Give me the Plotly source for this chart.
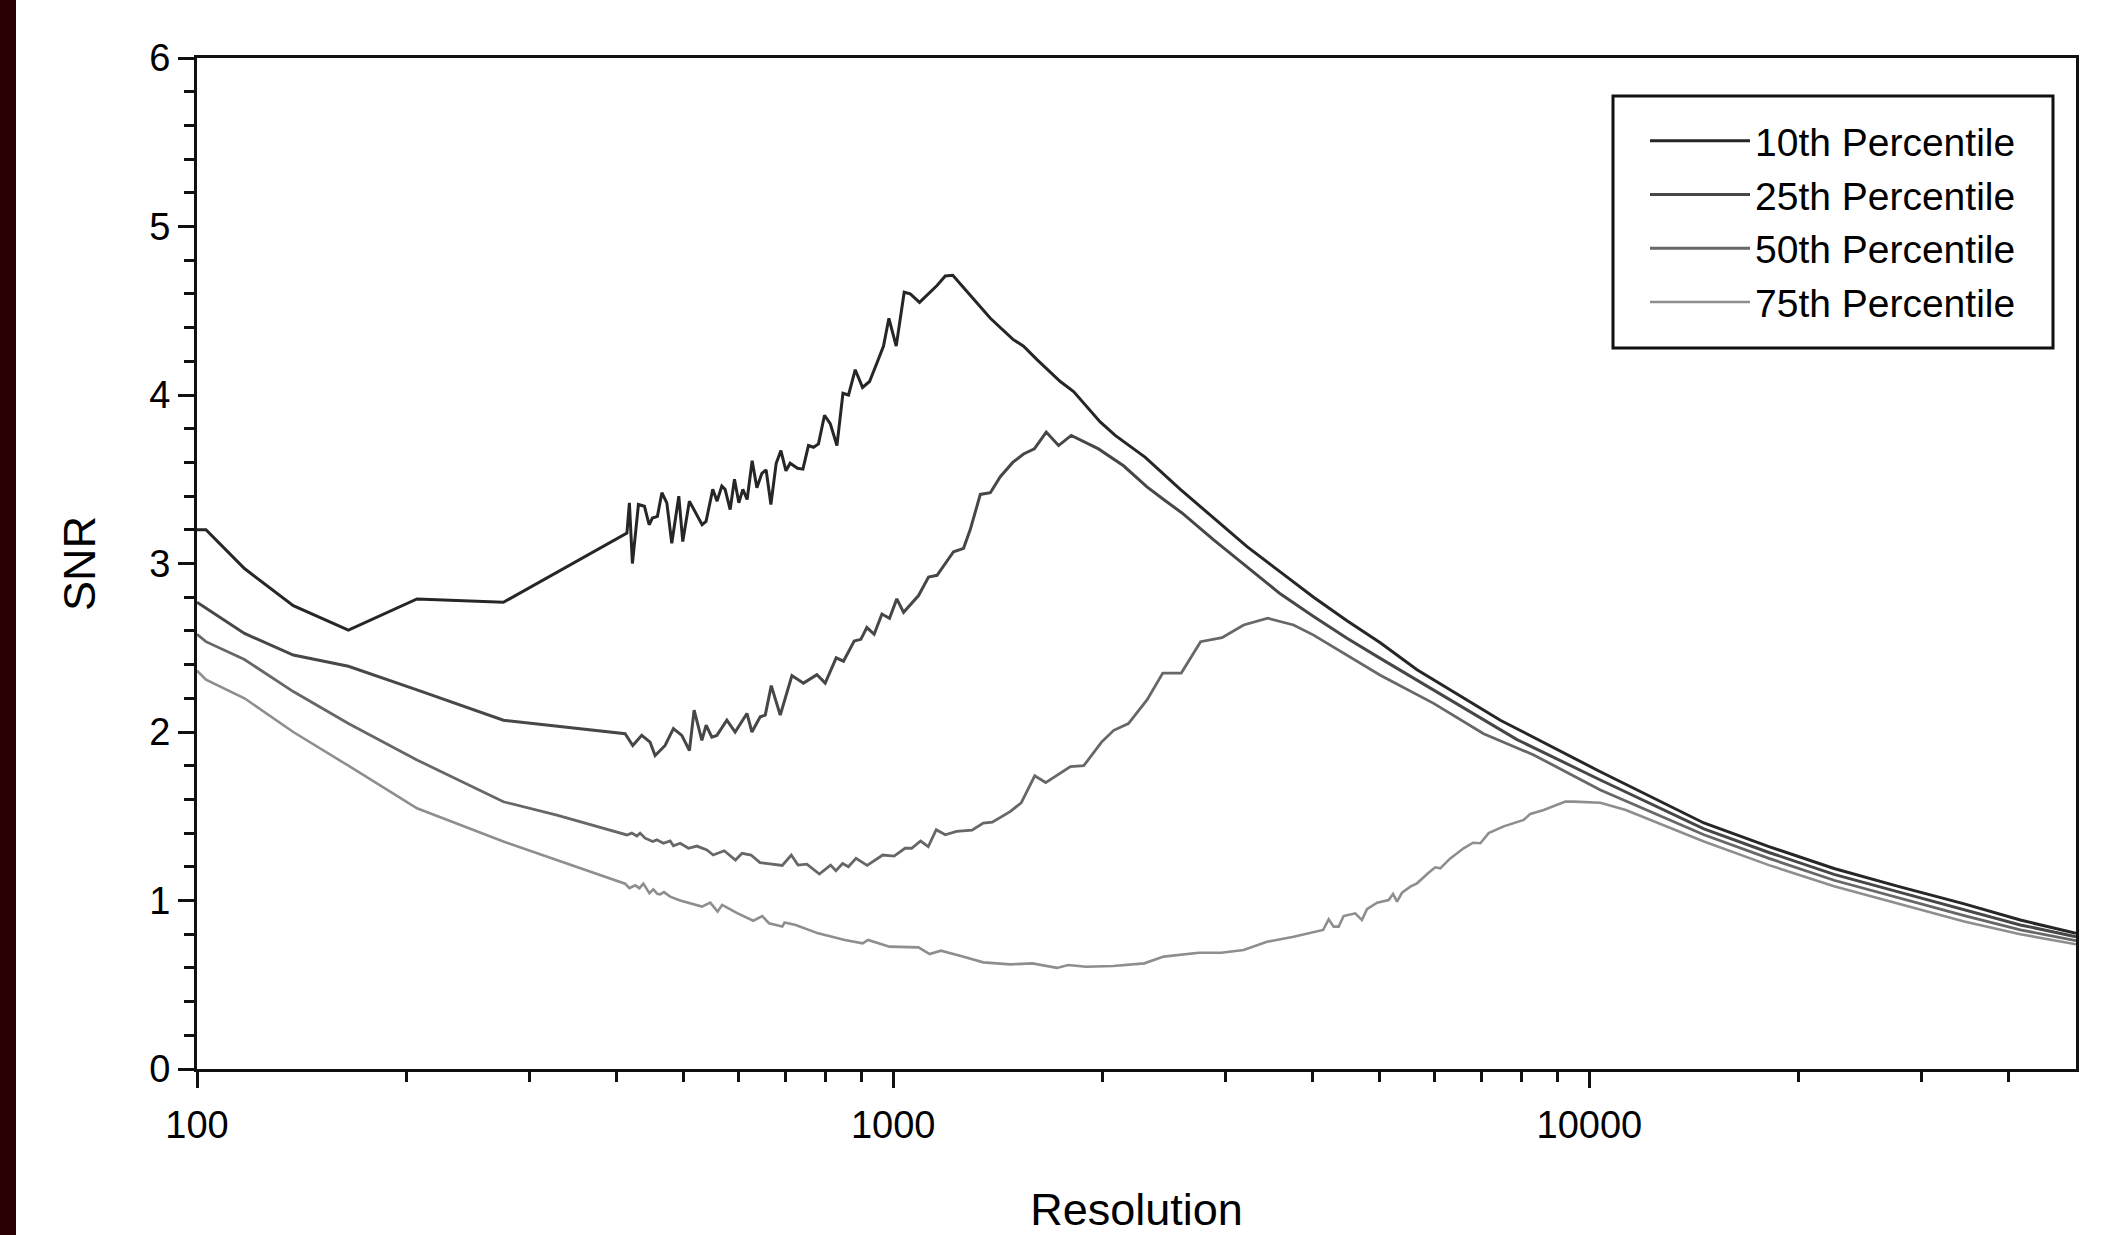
import math
import plotly.graph_objects as go

# ---------------- data ----------------
res_p10 = [100, 103, 117, 137.5, 165, 207, 275.5, 412, 414.5, 417.9, 422.1, 430.6, 439.2, 446.1,
           451.0, 458.5, 465.3, 473.0, 480.8, 492.1, 498.6, 509.6, 531.5, 538.5, 550.6, 558.5,
           567.3, 573.5, 583.2, 591.6, 600.2, 608.2, 616.9, 627.2, 637.1, 647.7, 656.9, 667.3,
           679.1, 689.8, 701.4, 711.2, 728.7, 741.9, 755.6, 768.3, 781.1, 796.8, 812.0, 830.2,
           846.9, 862.7, 882.0, 903.6, 924.8, 947.6, 968.5, 985.9, 1010, 1037, 1058, 1091, 1124,
           1156, 1188, 1218, 1248, 1312, 1379, 1486, 1539, 1609, 1738, 1816, 1983, 2084, 2302,
           2585, 2886, 3223, 3597, 4017, 4486, 5008, 5655, 5974, 7449, 10370, 14605, 18110,
           22460, 27860, 34550, 41590, 50000]
snr_p10 = [3.20, 3.20, 2.97, 2.75, 2.605, 2.79, 2.77, 3.175, 3.18, 3.36, 3.00, 3.35, 3.34, 3.23,
           3.27, 3.28, 3.42, 3.36, 3.12, 3.40, 3.13, 3.37, 3.23, 3.25, 3.44, 3.37,
           3.46, 3.44, 3.32, 3.50, 3.36, 3.44, 3.38, 3.61, 3.45, 3.535, 3.555, 3.35,
           3.595, 3.67, 3.55, 3.595, 3.565, 3.56, 3.70, 3.69, 3.71, 3.88, 3.83, 3.70,
           4.01, 4.00, 4.15, 4.045, 4.08, 4.19, 4.29, 4.455, 4.29, 4.61, 4.60, 4.55, 4.60,
           4.65, 4.706, 4.71, 4.66, 4.56, 4.455, 4.33, 4.29, 4.21, 4.08, 4.02, 3.84, 3.76, 3.63,
           3.44, 3.27, 3.10, 2.95, 2.80, 2.66, 2.53, 2.37, 2.31, 2.07, 1.764, 1.46, 1.32,
           1.19, 1.082, 0.98, 0.884, 0.805]

res_p25 = [100, 117, 137.5, 165, 207, 275.5, 412, 422.6, 435.3, 447.5, 455.0, 470.3, 483.4, 497.0,
           509.7, 517.7, 531.1, 538.7, 548.9, 558.1, 576.9, 592.9, 616.5, 626.7, 644.2, 655.0,
           668.1, 688.3, 715.4, 743.2, 777.0, 798.6, 828.2, 848.4, 879.0, 898.6, 916.6, 939.1,
           963.4, 987.9, 1012, 1035, 1087.5, 1124, 1156, 1221, 1262, 1290, 1334, 1379, 1425,
           1485, 1539, 1595, 1659, 1728, 1802, 1972, 2142, 2315, 2446, 2599, 2886, 3223, 3597,
           4017, 4486, 5008, 5974, 7872, 10370, 14605, 18110, 22460, 27860, 34550, 41590, 50000]
snr_p25 = [2.77, 2.585, 2.457, 2.39, 2.25, 2.07, 1.99, 1.92, 1.98, 1.94, 1.86, 1.92, 2.02, 1.98,
           1.89, 2.13, 1.95, 2.04, 1.97, 1.98, 2.07, 2.00, 2.11, 2.00, 2.09, 2.10,
           2.275, 2.10, 2.335, 2.29, 2.34, 2.29, 2.44, 2.42, 2.54, 2.55, 2.62, 2.58,
           2.70, 2.675, 2.79, 2.71, 2.81, 2.92, 2.93, 3.07, 3.09, 3.20, 3.41, 3.42, 3.515,
           3.60, 3.65, 3.68, 3.78, 3.70, 3.76, 3.68, 3.58, 3.455, 3.38, 3.30, 3.14, 2.98, 2.82,
           2.685, 2.556, 2.437, 2.25, 1.955, 1.715, 1.425, 1.285, 1.155, 1.05, 0.945, 0.855, 0.785]

res_p50 = [100, 103, 117, 137.5, 165, 207, 275.5, 328.8, 414.5, 421.2, 428.3, 432.9, 440.2, 451.5,
           457.6, 467.7, 478.2, 483.4, 494.3, 508.1, 522.4, 540.0, 551.4, 571.9, 593.5, 606.7,
           624.9, 643.7, 692.9, 713.9, 729.9, 751.6, 783.4, 813.0, 827.4, 845.9, 862.3, 884.3,
           917.5, 966.2, 1003, 1040, 1063, 1095, 1123, 1153, 1188, 1233, 1298, 1347, 1388, 1472,
           1527, 1597, 1656, 1797, 1878, 1992, 2074, 2177, 2315, 2439, 2593, 2764, 2967, 3187,
           3452, 3759, 4017, 4486, 5008, 5974, 7048, 8318, 10370, 14605, 18110, 22460, 27860,
           34550, 41590, 50000]
snr_p50 = [2.58, 2.536, 2.43, 2.24, 2.05, 1.834, 1.586, 1.507, 1.389, 1.40, 1.383, 1.40, 1.37, 1.35,
           1.36, 1.34, 1.353, 1.325, 1.34, 1.31, 1.323, 1.30, 1.27, 1.295, 1.24, 1.28,
           1.27, 1.225, 1.208, 1.27, 1.21, 1.216, 1.157, 1.21, 1.177, 1.22, 1.20, 1.25,
           1.208, 1.27, 1.264, 1.31, 1.31, 1.353, 1.32, 1.42, 1.39, 1.41, 1.418, 1.46, 1.465, 1.527,
           1.58, 1.74, 1.70, 1.795, 1.80, 1.94, 2.01, 2.05, 2.19, 2.35, 2.35, 2.536, 2.56, 2.635,
           2.675, 2.635, 2.575, 2.457, 2.337, 2.17, 1.99, 1.864, 1.656, 1.39, 1.25, 1.12, 1.015,
           0.91, 0.826, 0.762]

res_p75 = [100, 103, 117, 137.5, 165, 207, 275.5, 328.8, 412, 417.9, 425.9, 432.0, 437.7, 446.5,
           452.4, 458.2, 462.6, 468.5, 478.2, 494.3, 510.9, 531.3, 546.0, 559.5, 567.9, 597.9,
           629.5, 648.5, 663.1, 692.9, 698.2, 724.4, 780.1, 852.3, 904.0, 920.4, 987.9, 1087.5,
           1128, 1171, 1251, 1347, 1472, 1585, 1719, 1784, 1892, 2071, 2294, 2447, 2748, 2960,
           3187, 3443, 3760, 4145, 4222, 4292, 4364, 4436, 4610, 4713, 4792, 4955, 5148, 5224,
           5293, 5381, 5531, 5655, 5875, 6007, 6107, 6312, 6597, 6806, 6973, 7167, 7532, 8047,
           8227, 8597, 9237, 9494, 10370, 11280, 14605, 18110, 22460, 27860, 34550, 41590, 50000]
snr_p75 = [2.364, 2.31, 2.20, 2.00, 1.80, 1.547, 1.35, 1.24, 1.10, 1.073, 1.09, 1.073, 1.10, 1.043,
           1.066, 1.04, 1.037, 1.05, 1.023, 1.00, 0.983, 0.964, 0.987, 0.934, 0.974, 0.924,
           0.88, 0.908, 0.865, 0.845, 0.869, 0.855, 0.805, 0.766, 0.746, 0.766, 0.726, 0.722,
           0.682, 0.702, 0.67, 0.633, 0.621, 0.627, 0.60, 0.617, 0.607, 0.611, 0.627, 0.667, 0.69, 0.69,
           0.706, 0.755, 0.785, 0.825, 0.888, 0.845, 0.845, 0.908, 0.924, 0.884, 0.948, 0.987, 1.003, 1.039,
           0.993, 1.046, 1.082, 1.102, 1.165, 1.197, 1.191, 1.25, 1.31, 1.343, 1.34, 1.40, 1.44, 1.478,
           1.514, 1.537, 1.587, 1.587, 1.58, 1.537, 1.35, 1.21, 1.085, 0.98, 0.875, 0.80, 0.740]

series_names = ["10th Percentile", "25th Percentile", "50th Percentile", "75th Percentile"]
x_tick_values = [100, 1000, 10000]
x_tick_labels = ["100", "1000", "10000"]
y_tick_values = [0, 1, 2, 3, 4, 5, 6]

# ---------------- figure ----------------
FONT = "Liberation Sans, Arial, Helvetica, sans-serif"
colors = ["#262626", "#474747", "#676767", "#8e8e8e"]
widths = [3, 3, 2.8, 2.6]
all_x = [res_p10, res_p25, res_p50, res_p75]
all_y = [snr_p10, snr_p25, snr_p50, snr_p75]

fig = go.Figure()
for name, xs, ys, c, w in zip(series_names, all_x, all_y, colors, widths):
    fig.add_trace(go.Scatter(x=xs, y=ys, mode="lines", name=name,
                             line=dict(color=c, width=w)))

minor_x = [m * d for d in (100, 1000, 10000) for m in range(2, 10) if m * d < 50000]

W, H = 2103, 1235
ml, mr, mt, mb = 197, 27, 58, 166
pw, ph = W - ml - mr, H - mt - mb


def px_x(px):
    return (px - ml) / pw


def px_y(py):
    return (H - mb - py) / ph


axis_color = "#111111"
fig.update_layout(
    width=W, height=H,
    margin=dict(l=ml, r=mr, t=mt, b=mb, pad=0, autoexpand=False),
    paper_bgcolor="white", plot_bgcolor="white",
    font=dict(family=FONT, color="black", size=38),
    showlegend=True,
    legend=dict(
        x=px_x(1645), y=px_y(109), xanchor="left", yanchor="top",
        bgcolor="rgba(0,0,0,0)", borderwidth=0,
        font=dict(family=FONT, size=39, color="black"),
        itemwidth=100, tracegroupgap=0,
    ),
    xaxis=dict(
        type="log", range=[2, math.log10(50000)], automargin=False,
        showline=True, linecolor=axis_color, linewidth=3, mirror=True,
        ticks="outside", ticklen=16, tickwidth=3, tickcolor=axis_color,
        tickvals=x_tick_values, ticktext=x_tick_labels, ticklabelstandoff=4,
        tickfont=dict(size=38, family=FONT, color="black"),
        showgrid=False, zeroline=False,
        minor=dict(tickvals=minor_x, ticks="outside", ticklen=10, tickwidth=2.5,
                   tickcolor=axis_color, showgrid=False),
        title=dict(text="Resolution", font=dict(size=45, family=FONT, color="black"), standoff=55),
    ),
    yaxis=dict(
        range=[0, 6], automargin=False,
        showline=True, linecolor=axis_color, linewidth=3, mirror=True,
        ticks="outside", ticklen=16, tickwidth=3, tickcolor=axis_color,
        tickvals=y_tick_values,
        tickfont=dict(size=38, family=FONT, color="black"),
        showgrid=False, zeroline=False,
        minor=dict(dtick=0.2, ticks="outside", ticklen=10, tickwidth=2.5,
                   tickcolor=axis_color, showgrid=False),
        title=dict(text="SNR", font=dict(size=45, family=FONT, color="black"), standoff=40),
    ),
    shapes=[
        dict(type="rect", xref="paper", yref="paper",
             x0=-ml / pw, x1=(-ml + 16) / pw, y0=-mb / ph - 0.01, y1=1 + mt / ph + 0.01,
             fillcolor="#2b0003", line=dict(width=0), layer="below"),
        dict(type="rect", xref="paper", yref="paper",
             x0=px_x(1613), x1=px_x(2053), y0=px_y(348), y1=px_y(96),
             fillcolor="rgba(0,0,0,0)", line=dict(width=3, color=axis_color), layer="above"),
    ],
)

fig.write_html("out.html")
